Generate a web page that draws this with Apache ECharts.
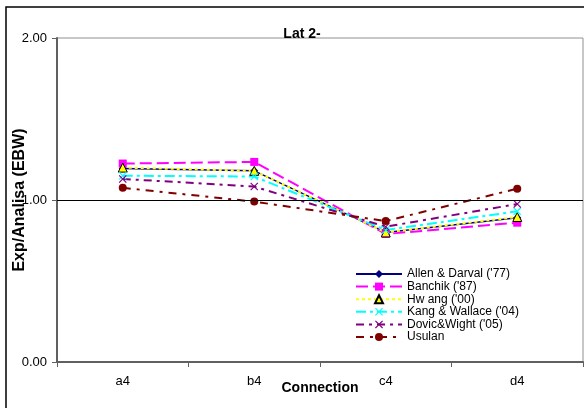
<!DOCTYPE html>
<html>
<head>
<meta charset="utf-8">
<script src="https://cdn.jsdelivr.net/npm/echarts@6/dist/echarts.min.js"></script>
<style>
html,body{margin:0;padding:0;background:#fff;}
#chart{width:584px;height:408px;}
</style>
</head>
<body>
<div id="chart"></div>
<script>
var categories = ['a4', 'b4', 'c4', 'd4'];
var seriesNames = ["Allen & Darval ('77)", "Banchik ('87)", "Hw ang ('00)", "Kang & Wallace ('04)", "Dovic&Wight ('05)", "Usulan"];
var allenValues = [1.195, 1.18, 0.80, 0.89];
var banchikValues = [1.225, 1.235, 0.79, 0.86];
var hwangValues = [1.20, 1.18, 0.80, 0.895];
var kangValues = [1.15, 1.145, 0.815, 0.93];
var dovicValues = [1.13, 1.083, 0.835, 0.975];
var usulanValues = [1.075, 0.99, 0.87, 1.07];
var yTicks = [0, 1, 2];

var xSymbol = 'path://M0,1L1,0L5,4L9,0L10,1L6,5L10,9L9,10L5,6L1,10L0,9L4,5Z';

function mk(name, data, color, lineType, lineWidth, symbol, size, extraItem) {
  var item = {color: color};
  if (extraItem) { for (var k in extraItem) item[k] = extraItem[k]; }
  return {
    name: name, type: 'line', data: data,
    symbol: symbol, symbolSize: size,
    lineStyle: {color: color, type: lineType, width: lineWidth},
    itemStyle: item,
    animation: false
  };
}

var series = [
  mk(seriesNames[0], allenValues, '#000080', 'solid', 1.5, 'diamond', 8),
  mk(seriesNames[1], banchikValues, '#FF00FF', [12, 5], 2, 'rect', 8),
  mk(seriesNames[2], hwangValues, '#FFFF00', [3, 3], 2, 'triangle', 9, {borderColor: '#000', borderWidth: 1}),
  mk(seriesNames[3], kangValues, '#00FFFF', [10, 4, 3, 4], 2, xSymbol, 8),
  mk(seriesNames[4], dovicValues, '#800080', [8, 5, 3, 5], 2, xSymbol, 8),
  mk(seriesNames[5], usulanValues, '#800000', [8, 6, 3, 6], 2, 'circle', 8)
];
series[0].markLine = {
  silent: true, symbol: 'none', label: {show: false},
  lineStyle: {color: '#000', type: 'solid', width: 1},
  data: [{yAxis: yTicks[1]}], animation: false
};

var chart = echarts.init(document.getElementById('chart'));
chart.setOption({
  backgroundColor: '#fff',
  textStyle: {fontFamily: 'Liberation Sans, Arial, sans-serif'},
  title: {
    text: 'Lat 2-', left: 297, top: 22, textAlign: 'center',
    textStyle: {fontSize: 14, fontWeight: 'bold', color: '#000', fontFamily: 'Liberation Sans, Arial, sans-serif'}
  },
  graphic: [{
    type: 'rect', z: -1, silent: true,
    shape: {x: 6, y: 7, width: 700, height: 500},
    style: {fill: 'none', stroke: '#000', lineWidth: 1.5}
  }],
  grid: {
    left: 57, top: 38, right: 1, bottom: 46,
    outerBoundsMode: 'none', containLabel: false,
    show: true, borderColor: '#909090', borderWidth: 1, backgroundColor: 'transparent'
  },
  legend: {
    left: 350, top: 263, orient: 'vertical',
    itemWidth: 46, itemHeight: 10, itemGap: 0.6,
    textStyle: {fontSize: 12, color: '#000', lineHeight: 12, fontFamily: 'Liberation Sans, Arial, sans-serif'},
    data: seriesNames
  },
  xAxis: {
    type: 'category', data: categories, boundaryGap: true,
    name: 'Connection', nameLocation: 'middle', nameGap: 19, nameMoveOverlap: false,
    nameTextStyle: {fontSize: 14, fontWeight: 'bold', color: '#000'},
    axisLine: {lineStyle: {color: '#606060', width: 2}},
    axisTick: {show: true, alignWithLabel: false, length: 5, lineStyle: {color: '#606060', width: 1}},
    axisLabel: {fontSize: 13, color: '#000', margin: 13},
    splitLine: {show: false}
  },
  yAxis: {
    type: 'value', min: 0, max: 2, interval: 1,
    name: 'Exp/Analisa (EBW)', nameLocation: 'middle', nameGap: 29, nameMoveOverlap: false,
    nameTextStyle: {fontSize: 16, fontWeight: 'bold', color: '#000', backgroundColor: '#fff', padding: [0, 0, 0, 0]},
    axisLine: {show: true, lineStyle: {color: '#606060', width: 2}},
    axisTick: {show: true, length: 5, lineStyle: {color: '#606060', width: 1}},
    axisLabel: {fontSize: 13, color: '#000', margin: 10, formatter: function (v) { return v.toFixed(2); }},
    splitLine: {show: false}
  },
  series: series
});
</script>
</body>
</html>
